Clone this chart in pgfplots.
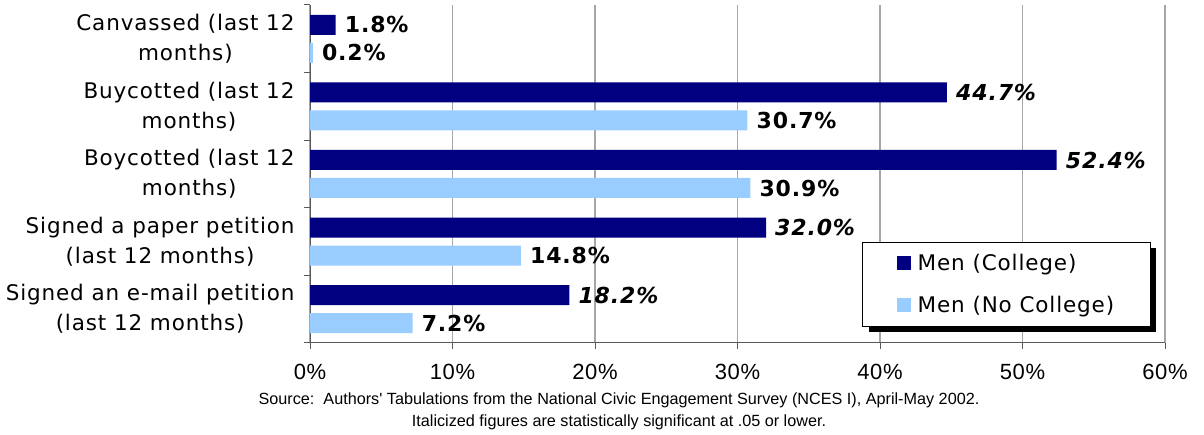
\documentclass[border=0pt]{standalone}
\usepackage{fontspec}
\setmainfont{DejaVu Sans}[LetterSpace=4]
\newfontfamily\arialfont{Liberation Sans}[LetterSpace=3]
\newfontfamily\srcfont{Liberation Sans}
\usepackage{pgfplots}
\pgfplotsset{compat=1.18}
\usetikzlibrary{shadows}

\definecolor{navy}{HTML}{000080}
\definecolor{skyb}{HTML}{99CCFF}
\definecolor{gridc}{HTML}{A6A6A6}

% legend square with a little room on its right
\newcommand{\legsquare}[1]{%
  \pgfpathrectangle{\pgfpoint{0pt}{-7pt}}{\pgfpoint{19pt}{14pt}}\pgfusepath{use as bounding box}%
  \pgfsetfillcolor{#1}\pgfpathrectangle{\pgfpoint{0pt}{-7pt}}{\pgfpoint{14pt}{14pt}}\pgfusepath{fill}}

\begin{document}
\begin{tikzpicture}
\useasboundingbox (0,0) rectangle (1204pt,435pt);
\begin{axis}[
  at={(310pt,92pt)}, anchor=south west,
  scale only axis, width=855pt, height=338pt,
  xbar, bar width=20pt,
  xmin=0, xmax=60, ymin=-0.5, ymax=4.5,
  axis x line*=bottom, axis y line*=left,
  axis line style={gray!70!black, line width=1pt},
  tick align=outside, major tick length=6pt, minor tick length=6pt,
  tick style={gray!70!black, line width=1pt},
  xtick={0,10,...,60},
  xticklabels={0\%,10\%,20\%,30\%,40\%,50\%,60\%},
  xticklabel style={font=\arialfont\fontsize{22}{22}\selectfont, yshift=-12pt},
  xmajorgrids, major grid style={gridc, line width=1.2pt},
  ytick={0,...,4},
  major y tick style={draw=none},
  minor ytick={-0.5,0.5,...,4.5},
  yticklabels={{Signed an e-mail petition\\(last 12 months)},
               {Signed a paper petition\\(last 12 months)},
               {Boycotted (last 12\\months)},
               {Buycotted (last 12\\months)},
               {Canvassed (last 12\\months)}},
  yticklabel style={align=center, font=\fontsize{21.5}{30}\selectfont, xshift=-6pt},
  point meta=explicit symbolic,
  nodes near coords,
  nodes near coords style={font=\bfseries\fontsize{22}{22}\selectfont, anchor=west, inner sep=0pt, xshift=9pt, text=black},
  legend style={at={(rel axis cs:0.646,0.299)}, anchor=north west,
    draw=black, line width=0.8pt, fill=white,
    drop shadow={shadow xshift=6pt, shadow yshift=-6pt, fill=black, opacity=1},
    font=\fontsize{21.5}{21.5}\selectfont,
    inner xsep=34pt, inner ysep=10pt, row sep=20pt},
  legend cell align=left,
]
\addplot[fill=navy, draw=none, bar shift=14pt,
  legend image code/.code={\legsquare{navy}}]
  coordinates {
  (18.2,0) [\textit{18.2\%}]
  (32.0,1) [\textit{32.0\%}]
  (52.4,2) [\textit{52.4\%}]
  (44.7,3) [\textit{44.7\%}]
  (1.8,4)  [1.8\%]
};
\addplot[fill=skyb, draw=none, bar shift=-14pt,
  legend image code/.code={\legsquare{skyb}}]
  coordinates {
  (7.2,0)  [7.2\%]
  (14.8,1) [14.8\%]
  (30.9,2) [30.9\%]
  (30.7,3) [30.7\%]
  (0.2,4)  [0.2\%]
};
\legend{Men (College), Men (No College)}
\end{axis}
\node[font=\srcfont\fontsize{16.2}{16.2}\selectfont, anchor=base] at (619pt,30pt)
  {Source:\ \ Authors' Tabulations from the National Civic Engagement Survey (NCES I), April-May 2002.};
\node[font=\srcfont\fontsize{16.2}{16.2}\selectfont, anchor=base] at (619pt,8pt)
  {Italicized figures are statistically significant at .05 or lower.};
\end{tikzpicture}
\end{document}
